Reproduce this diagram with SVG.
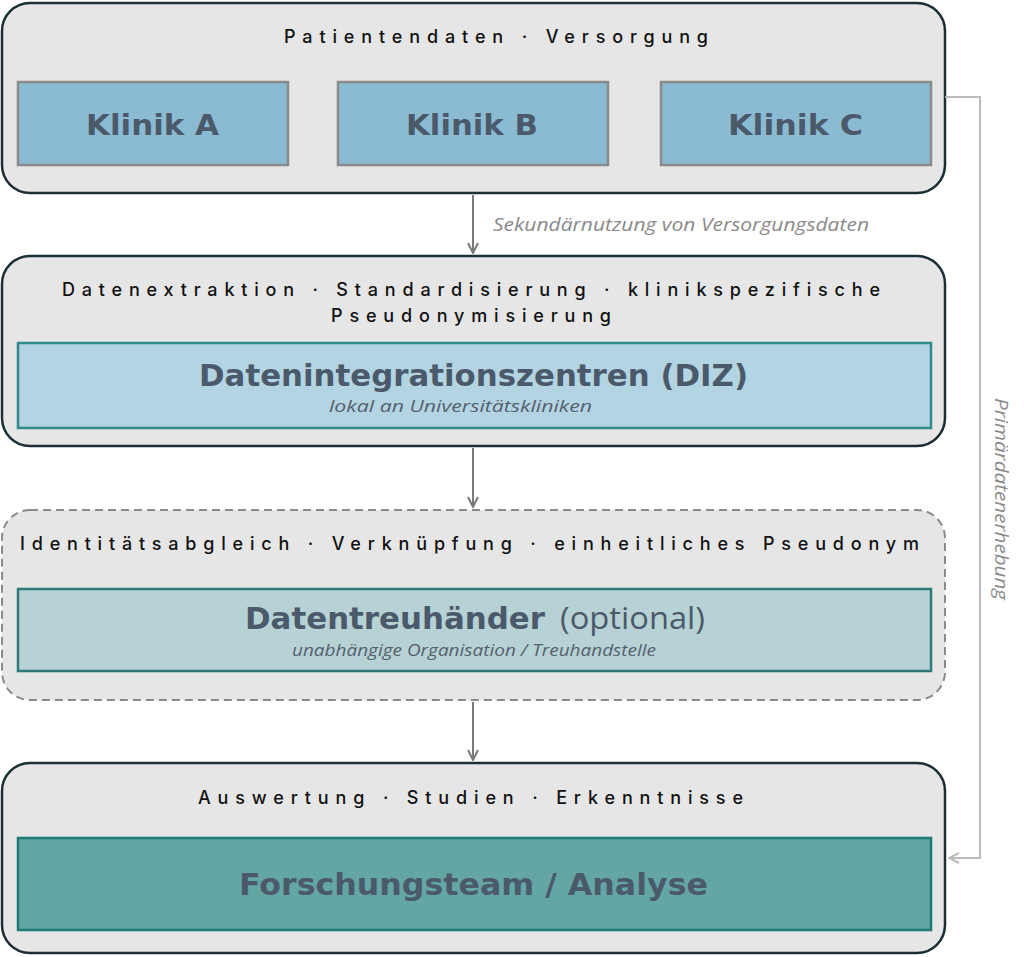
<svg xmlns="http://www.w3.org/2000/svg" width="1024" height="957" viewBox="0 0 1024 957">
<style>
.outer{fill:#e6e6e6;stroke:#1c2f36;stroke-width:2.5}
.dashed{fill:#e6e6e6;stroke:#8a8a8a;stroke-width:2;stroke-dasharray:8 5}
.klinik{fill:#8bbad3;stroke:#8a8a8a;stroke-width:2.5}
.spaced{font-family:Inter,"Liberation Sans",sans-serif;font-size:18px;font-weight:500;fill:#111}
.title{font-family:"DejaVu Sans",sans-serif;font-weight:bold;fill:#4b5a6b}
.sub{font-family:"Open Sans","Liberation Sans",sans-serif;font-style:italic;font-size:16px;fill:#55606e}
.lbl{font-family:"Open Sans","Liberation Sans",sans-serif;font-style:italic;font-size:18px;fill:#8a8a8a}
.arr{stroke:#7a7a7a;stroke-width:2;fill:none}
</style>
<defs>
<marker id="ah" viewBox="0 0 12 12" refX="11" refY="6" markerWidth="12" markerHeight="12" markerUnits="userSpaceOnUse" orient="auto">
<path d="M1,1 L11,6 L1,11" fill="none" stroke="#7a7a7a" stroke-width="2"/>
</marker>
<marker id="ahl" viewBox="0 0 12 12" refX="11" refY="6" markerWidth="12" markerHeight="12" markerUnits="userSpaceOnUse" orient="auto">
<path d="M1,1 L11,6 L1,11" fill="none" stroke="#bbbbbb" stroke-width="2"/>
</marker>
</defs>
<rect width="1024" height="957" fill="#ffffff"/>

<g id="layer-versorgung">
<rect class="outer" x="2" y="3" width="943" height="190" rx="28"/>
<text class="spaced" x="284" y="43" textLength="424" lengthAdjust="spacing">Patientendaten · Versorgung</text>
</g>
<g id="klinik-a">
<rect class="klinik" x="18" y="82" width="270" height="83"/>
<text class="title" x="86" y="135" font-size="29" textLength="133" lengthAdjust="spacingAndGlyphs">Klinik A</text>
</g>
<g id="klinik-b">
<rect class="klinik" x="338" y="82" width="270" height="83"/>
<text class="title" x="406" y="135" font-size="29" textLength="132" lengthAdjust="spacingAndGlyphs">Klinik B</text>
</g>
<g id="klinik-c">
<rect class="klinik" x="661" y="82" width="270" height="83"/>
<text class="title" x="728" y="135" font-size="29" textLength="135" lengthAdjust="spacingAndGlyphs">Klinik C</text>
</g>

<g id="layer-diz">
<rect class="outer" x="2" y="256" width="943" height="190" rx="28"/>
<text class="spaced" x="62" y="296" textLength="818" lengthAdjust="spacing">Datenextraktion · Standardisierung · klinikspezifische</text>
<text class="spaced" x="331" y="322" textLength="280" lengthAdjust="spacing">Pseudonymisierung</text>
</g>
<g id="diz">
<rect x="18" y="343" width="913" height="85" fill="#b3d4e2" stroke="#2f8a8c" stroke-width="2.5"/>
<text class="title" x="199" y="386" font-size="30" textLength="549" lengthAdjust="spacingAndGlyphs">Datenintegrationszentren (DIZ)</text>
<text class="sub" x="329" y="412" textLength="263" lengthAdjust="spacingAndGlyphs">lokal an Universitätskliniken</text>
</g>

<g id="layer-treuhand">
<rect class="dashed" x="2" y="510" width="943" height="190" rx="28"/>
<text class="spaced" x="20" y="550" textLength="899" lengthAdjust="spacing">Identitätsabgleich · Verknüpfung · einheitliches Pseudonym</text>
</g>
<g id="treuhaender">
<rect x="18" y="589" width="913" height="82" fill="#b7d2d4" stroke="#2e7a7a" stroke-width="2.5"/>
<text class="title" x="245" y="629" font-size="30" textLength="300" lengthAdjust="spacingAndGlyphs">Datentreuhänder</text>
<text x="560" y="629" font-family="'Open Sans','Liberation Sans',sans-serif" font-size="31" fill="#4b5a6b" textLength="145" lengthAdjust="spacingAndGlyphs">(optional)</text>
<text class="sub" x="292" y="656" textLength="364" lengthAdjust="spacingAndGlyphs">unabhängige Organisation / Treuhandstelle</text>
</g>

<g id="layer-forschung">
<rect class="outer" x="2" y="763" width="943" height="190" rx="28"/>
<text class="spaced" x="198" y="804" textLength="545" lengthAdjust="spacing">Auswertung · Studien · Erkenntnisse</text>
</g>
<g id="forschung">
<rect x="18" y="838" width="913" height="92" fill="#63a6a5" stroke="#1e7a78" stroke-width="2.5"/>
<text class="title" x="239" y="895" font-size="30" textLength="469" lengthAdjust="spacingAndGlyphs">Forschungsteam / Analyse</text>
</g>

<g id="connectors">
<line class="arr" x1="473" y1="195" x2="473" y2="253" marker-end="url(#ah)"/>
<text class="lbl" x="493" y="231" textLength="376" lengthAdjust="spacingAndGlyphs">Sekundärnutzung von Versorgungsdaten</text>
<line class="arr" x1="473" y1="448" x2="473" y2="507" marker-end="url(#ah)"/>
<line class="arr" x1="473" y1="702" x2="473" y2="760" marker-end="url(#ah)"/>
<polyline points="945,97 980,97 980,858 949,858" fill="none" stroke="#bbbbbb" stroke-width="2" marker-end="url(#ahl)"/>
<text class="lbl" transform="translate(995,398) rotate(90)" x="0" y="0" textLength="202" lengthAdjust="spacingAndGlyphs">Primärdatenerhebung</text>
</g>
</svg>
